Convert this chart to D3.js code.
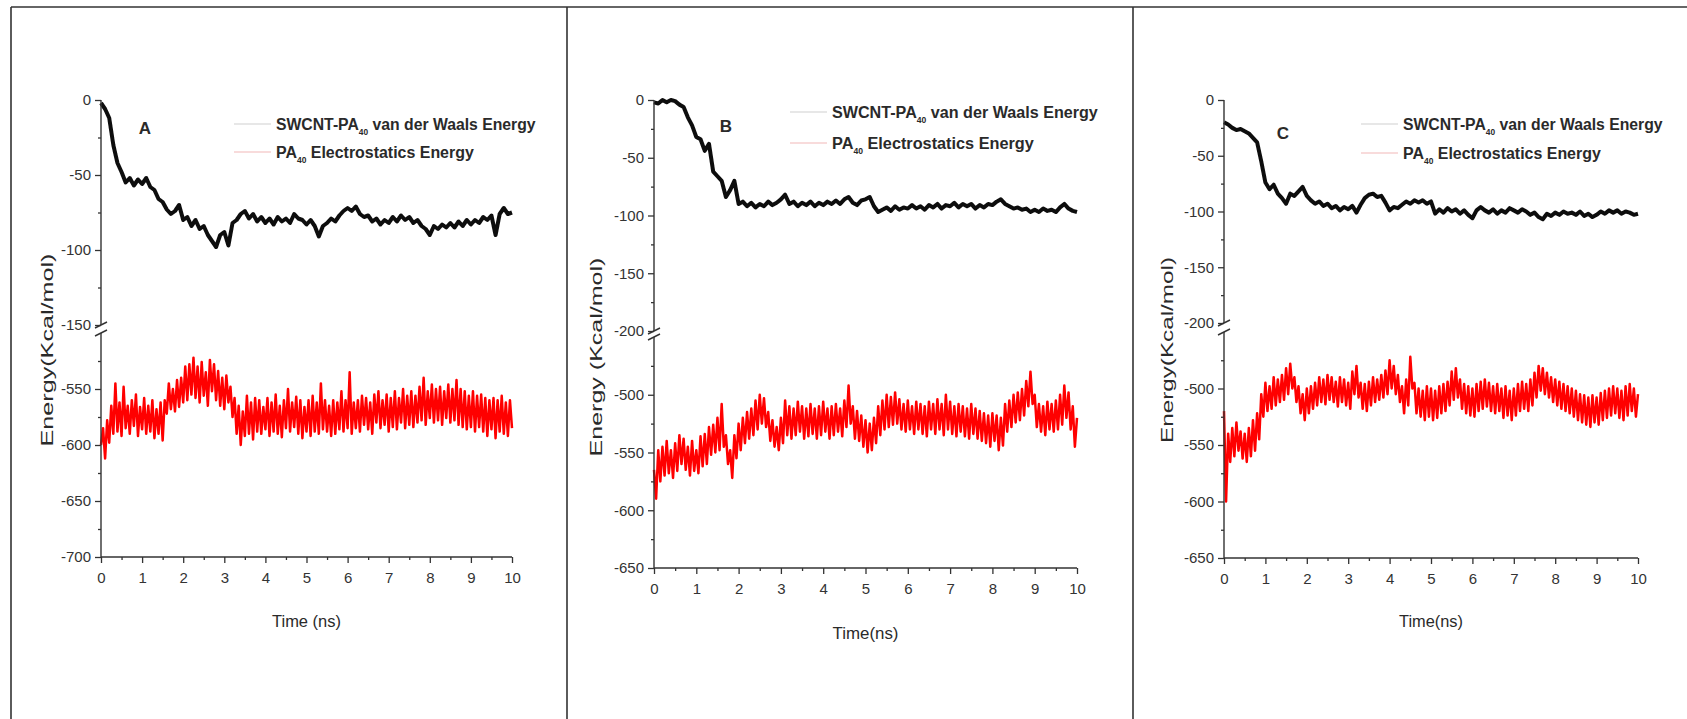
<!DOCTYPE html>
<html>
<head>
<meta charset="utf-8">
<script src="https://cdn.jsdelivr.net/npm/d3@7/dist/d3.min.js"></script>
<style>
  body { margin: 0; background: #fff; }
  svg { display: block; font-family: "Liberation Sans", Arial, sans-serif; }
</style>
</head>
<body>
<svg id="fig" width="1687" height="719"></svg>
<script>
// ---------------------------------------------------------------
// Energies (kcal/mol) over 0–10 ns for three SWCNT–PA40 systems.
// vdW series sampled every 0.1 ns, electrostatic every 0.05 ns.
// ---------------------------------------------------------------
const vdwA = [-2,-6,-12,-30,-42,-48,-55,-52,-57,-53,-56,-52,-58,-60,-66,-68,-73,-76,-74,-70,
  -80,-78,-84,-80,-86,-84,-90,-94,-98,-90,-88,-97,-82,-80,-76,-74,-79,-76,-81,-78,
  -82,-79,-83,-78,-81,-79,-82,-76,-79,-80,-83,-80,-84,-91,-84,-82,-79,-81,-77,-74,
  -72,-74,-71,-76,-78,-77,-81,-79,-83,-80,-82,-78,-81,-77,-80,-78,-82,-80,-84,-86,
  -90,-84,-86,-83,-85,-82,-85,-81,-84,-80,-83,-80,-82,-78,-80,-77,-90,-76,-72,-76,-75];

const elecA = [-600,-585,-612,-578,-598,-565,-590,-545,-588,-562,-592,-548,-585,-565,-590,-560,-583,-555,-592,-566,
  -586,-558,-590,-565,-588,-560,-594,-568,-590,-562,-596,-560,-572,-545,-568,-550,-570,-542,-566,-540,
  -562,-530,-560,-528,-555,-522,-558,-530,-562,-526,-556,-535,-565,-524,-552,-528,-560,-534,-565,-540,
  -568,-538,-562,-548,-575,-558,-590,-565,-600,-570,-592,-556,-590,-562,-595,-558,-588,-560,-590,-566,
  -586,-558,-592,-562,-588,-555,-590,-565,-593,-560,-585,-550,-588,-562,-584,-557,-590,-560,-594,-566,
  -588,-560,-592,-556,-588,-562,-590,-545,-586,-560,-588,-565,-592,-560,-590,-562,-586,-552,-588,-560,
  -585,-535,-590,-562,-585,-560,-588,-556,-582,-558,-586,-562,-590,-555,-580,-552,-585,-560,-582,-555,
  -588,-558,-584,-552,-586,-558,-580,-550,-585,-556,-582,-552,-584,-556,-580,-548,-578,-540,-582,-552,
  -576,-546,-580,-550,-578,-548,-582,-552,-576,-546,-580,-550,-578,-542,-582,-550,-584,-552,-586,-556,
  -584,-552,-588,-556,-584,-555,-588,-558,-592,-560,-586,-558,-594,-560,-588,-556,-590,-562,-592,-560,
  -585];

const vdwB = [-2,-3,0,-2,0,-1,-4,-6,-15,-22,-32,-34,-44,-38,-62,-66,-70,-84,-78,-70,
  -90,-88,-92,-89,-93,-90,-92,-88,-91,-89,-86,-82,-90,-88,-92,-89,-91,-88,-92,-89,
  -91,-88,-90,-87,-90,-86,-84,-89,-91,-87,-86,-84,-92,-97,-95,-93,-96,-92,-95,-93,
  -94,-91,-94,-92,-95,-91,-93,-90,-94,-91,-92,-89,-93,-90,-92,-90,-94,-91,-93,-90,
  -91,-88,-86,-90,-92,-94,-93,-95,-94,-97,-95,-97,-94,-96,-95,-97,-93,-90,-94,-96,-97];

const elecB = [-565,-590,-548,-575,-545,-570,-540,-568,-548,-572,-542,-566,-535,-560,-538,-565,-545,-570,-540,-566,
  -548,-568,-536,-562,-534,-560,-528,-552,-526,-550,-520,-548,-508,-545,-535,-560,-548,-572,-535,-555,
  -525,-548,-520,-542,-515,-538,-512,-535,-505,-530,-500,-525,-503,-528,-515,-540,-522,-545,-528,-548,
  -520,-542,-505,-535,-510,-538,-512,-535,-506,-532,-510,-538,-512,-536,-508,-534,-512,-538,-510,-535,
  -506,-532,-512,-538,-510,-535,-508,-532,-512,-536,-505,-528,-492,-525,-510,-538,-514,-540,-518,-545,
  -522,-550,-525,-548,-520,-542,-510,-535,-505,-530,-500,-528,-502,-526,-498,-525,-504,-530,-508,-532,
  -505,-530,-510,-534,-506,-530,-508,-534,-510,-536,-506,-530,-508,-534,-504,-530,-508,-535,-500,-530,
  -506,-534,-510,-536,-508,-532,-510,-536,-512,-538,-508,-534,-512,-538,-514,-540,-516,-542,-518,-545,
  -516,-540,-518,-548,-520,-544,-508,-532,-505,-528,-500,-524,-498,-522,-495,-518,-488,-510,-480,-508,
  -500,-528,-508,-532,-510,-535,-506,-530,-508,-532,-505,-530,-500,-526,-492,-520,-498,-530,-510,-545,
  -520];

const vdwC = [-20,-22,-25,-27,-26,-28,-30,-34,-38,-55,-74,-80,-76,-84,-88,-93,-84,-86,-82,-78,
  -86,-90,-93,-91,-95,-93,-97,-95,-99,-96,-98,-95,-101,-94,-88,-85,-84,-87,-86,-92,
  -99,-96,-97,-94,-91,-93,-90,-92,-90,-93,-91,-102,-98,-101,-97,-100,-98,-102,-99,-103,
  -106,-99,-96,-99,-101,-98,-102,-99,-101,-97,-99,-101,-98,-100,-103,-101,-105,-107,-102,-104,
  -101,-103,-100,-102,-101,-103,-100,-104,-102,-105,-103,-100,-102,-99,-101,-99,-102,-100,-101,-103,-102];

const elecC = [-520,-600,-540,-565,-535,-560,-530,-555,-538,-562,-540,-565,-535,-560,-528,-555,-522,-545,-505,-525,
  -495,-520,-498,-518,-490,-515,-492,-512,-488,-510,-482,-505,-478,-500,-490,-512,-498,-522,-505,-528,
  -500,-522,-498,-518,-495,-515,-490,-512,-492,-514,-488,-510,-490,-512,-494,-516,-490,-512,-492,-515,
  -495,-518,-485,-505,-480,-508,-495,-518,-496,-520,-494,-515,-490,-512,-492,-510,-488,-508,-484,-505,
  -475,-500,-480,-505,-488,-512,-498,-522,-492,-515,-472,-500,-495,-522,-500,-525,-502,-528,-498,-525,
  -500,-528,-502,-526,-498,-522,-496,-520,-494,-515,-485,-510,-482,-508,-492,-518,-496,-522,-498,-524,
  -500,-525,-496,-520,-494,-518,-492,-516,-495,-520,-498,-522,-496,-520,-500,-526,-498,-524,-502,-528,
  -500,-524,-496,-520,-494,-518,-496,-520,-492,-515,-486,-508,-480,-502,-482,-505,-486,-508,-490,-512,
  -492,-515,-494,-518,-496,-520,-498,-522,-500,-525,-502,-528,-505,-530,-506,-532,-508,-534,-506,-530,
  -508,-532,-504,-528,-502,-526,-500,-524,-498,-522,-500,-526,-502,-528,-498,-524,-496,-520,-500,-525,
  -505];

// Axis ticks
const xTicks = [0,1,2,3,4,5,6,7,8,9,10];
const xMinorTicks = [0.5,1.5,2.5,3.5,4.5,5.5,6.5,7.5,8.5,9.5];

const upperDomainA = [-150, 0],  lowerDomainA = [-700, -500];
const upperDomainB = [-200, 0],  lowerDomainB = [-650, -450];
const upperDomainC = [-200, 0],  lowerDomainC = [-650, -450];

const upperTicksA = [0,-50,-100,-150],        lowerTicksA = [-550,-600,-650,-700];
const upperTicksB = [0,-50,-100,-150,-200],   lowerTicksB = [-500,-550,-600,-650];
const upperTicksC = [0,-50,-100,-150,-200],   lowerTicksC = [-500,-550,-600,-650];

const upperMinorA = [-25,-75,-125],            lowerMinorA = [-525,-575,-625,-675];
const upperMinorB = [-25,-75,-125,-175],       lowerMinorB = [-475,-525,-575,-625];
const upperMinorC = [-25,-75,-125,-175],       lowerMinorC = [-475,-525,-575,-625];

const panelLetters = ["A", "B", "C"];
const yTitles = ["Energy(Kcal/mol)", "Energy (Kcal/mol)", "Energy(Kcal/mol)"];
const xTitles = ["Time (ns)", "Time(ns)", "Time(ns)"];

// ---------------------------------------------------------------
// Panel layout (pixel geometry)
// ---------------------------------------------------------------
const panels = [
  { letter: panelLetters[0], vdw: vdwA, elec: elecA,
    upDom: upperDomainA, loDom: lowerDomainA, upTicks: upperTicksA, loTicks: lowerTicksA,
    upMinor: upperMinorA, loMinor: lowerMinorA, yTitle: yTitles[0], xTitle: xTitles[0],
    left: 101, right: 512, upTop: 100, upBot: 325, loTop: 333, loBot: 557,
    letterPos: [145, 128], legX: 276, legY: [124, 152], legW: [260, 198],
    yTitlePos: [47, 350], yTitleLen: 193, xTitleY: 621, xTitleLen: 69 },
  { letter: panelLetters[1], vdw: vdwB, elec: elecB,
    upDom: upperDomainB, loDom: lowerDomainB, upTicks: upperTicksB, loTicks: lowerTicksB,
    upMinor: upperMinorB, loMinor: lowerMinorB, yTitle: yTitles[1], xTitle: xTitles[1],
    left: 654, right: 1077, upTop: 100, upBot: 331, loTop: 337, loBot: 568,
    letterPos: [726, 126], legX: 832, legY: [112, 143], legW: [266, 202],
    yTitlePos: [596, 357], yTitleLen: 199, xTitleY: 633, xTitleLen: 66 },
  { letter: panelLetters[2], vdw: vdwC, elec: elecC,
    upDom: upperDomainC, loDom: lowerDomainC, upTicks: upperTicksC, loTicks: lowerTicksC,
    upMinor: upperMinorC, loMinor: lowerMinorC, yTitle: yTitles[2], xTitle: xTitles[2],
    left: 1224, right: 1638, upTop: 100, upBot: 323, loTop: 332, loBot: 558,
    letterPos: [1283, 133], legX: 1403, legY: [124, 153], legW: [260, 198],
    yTitlePos: [1167, 350], yTitleLen: 186, xTitleY: 621, xTitleLen: 64 }
];

const svg = d3.select("#fig");
const ink = "#2a2a2a";

// Slight softening for the dense simulation traces
const defs = svg.append("defs");
defs.append("filter").attr("id", "soft").attr("x", "-5%").attr("y", "-20%")
  .attr("width", "110%").attr("height", "140%")
  .append("feGaussianBlur").attr("stdDeviation", 0.7);

// Outer frame and panel dividers
const frame = svg.append("g").attr("stroke", "#333").attr("stroke-width", 1.6).attr("fill", "none");
frame.append("line").attr("x1", 11).attr("x2", 1687).attr("y1", 7).attr("y2", 7);
frame.append("line").attr("x1", 11).attr("x2", 11).attr("y1", 7).attr("y2", 719);
frame.append("line").attr("x1", 567).attr("x2", 567).attr("y1", 7).attr("y2", 719);
frame.append("line").attr("x1", 1133).attr("x2", 1133).attr("y1", 7).attr("y2", 719);

// Place a text so that its drawn length equals `len`, scaling glyphs along the baseline.
function fittedText(parent, x, y, len, rotate, build) {
  const g = parent.append("g");
  const t = g.append("text").attr("x", 0).attr("y", 0);
  build(t);
  const w = t.node().getComputedTextLength();
  const s = len / w;
  g.attr("transform", `translate(${x},${y}) rotate(${rotate}) scale(${s},1)`);
  return g;
}

panels.forEach(p => {
  const g = svg.append("g");
  const x = d3.scaleLinear().domain([0, 10]).range([p.left, p.right]);
  const yUp = d3.scaleLinear().domain(p.upDom).range([p.upBot, p.upTop]);
  const yLo = d3.scaleLinear().domain(p.loDom).range([p.loBot, p.loTop]);

  const tVdw = d3.range(p.vdw.length).map(i => i * 10 / (p.vdw.length - 1));
  const tEl = d3.range(p.elec.length).map(i => i * 10 / (p.elec.length - 1));

  // Traces
  const traces = g.append("g").attr("filter", "url(#soft)");
  traces.append("path")
    .attr("d", d3.line().x((d, i) => x(tEl[i])).y(d => yLo(d))(p.elec))
    .attr("fill", "none").attr("stroke", "#ff0000").attr("stroke-width", 2.5)
    .attr("stroke-linejoin", "round");
  traces.append("path")
    .attr("d", d3.line().x((d, i) => x(tVdw[i])).y(d => yUp(d))(p.vdw))
    .attr("fill", "none").attr("stroke", "#111").attr("stroke-width", 4)
    .attr("stroke-linejoin", "round");

  // X axis
  const xAxis = g.append("g").attr("transform", `translate(0,${p.loBot})`)
    .call(d3.axisBottom(x).tickValues(xTicks).tickSize(6).tickPadding(9).tickFormat(d3.format("d")));
  g.append("g").attr("transform", `translate(0,${p.loBot})`)
    .call(d3.axisBottom(x).tickValues(xMinorTicks).tickSize(3).tickFormat(""))
    .select(".domain").remove();

  // Y axis, upper and lower segments
  const yAxUp = g.append("g").attr("transform", `translate(${p.left},0)`)
    .call(d3.axisLeft(yUp).tickValues(p.upTicks).tickSize(6).tickPadding(4).tickFormat(d3.format("d")));
  g.append("g").attr("transform", `translate(${p.left},0)`)
    .call(d3.axisLeft(yUp).tickValues(p.upMinor).tickSize(3).tickFormat(""))
    .select(".domain").remove();
  const yAxLo = g.append("g").attr("transform", `translate(${p.left},0)`)
    .call(d3.axisLeft(yLo).tickValues(p.loTicks).tickSize(6).tickPadding(4).tickFormat(d3.format("d")));
  g.append("g").attr("transform", `translate(${p.left},0)`)
    .call(d3.axisLeft(yLo).tickValues(p.loMinor).tickSize(3).tickFormat(""))
    .select(".domain").remove();

  [xAxis, yAxUp, yAxLo].forEach(a => {
    a.select(".domain").attr("stroke", "#333").attr("stroke-width", 1.4);
  });
  g.selectAll(".tick line").attr("stroke", "#333").attr("stroke-width", 1.3);
  g.selectAll(".tick text").attr("fill", "#333").attr("font-size", 15)
    .attr("font-family", "'Liberation Sans', Arial, sans-serif");
  // Plain hyphen for negative tick labels
  g.selectAll(".tick text").text(function () { return d3.select(this).text().replace("−", "-"); });
  // Axis lines without the outer-end caps
  yAxUp.select(".domain").attr("d", `M0,${p.upTop}V${p.upBot}`);
  yAxLo.select(".domain").attr("d", `M0,${p.loTop}V${p.loBot}`);
  xAxis.select(".domain").attr("d", `M${p.left},0H${p.right}`);

  // Axis-break marks
  const brk = g.append("g").attr("stroke", "#333").attr("stroke-width", 1.4);
  [p.upBot, p.loTop].forEach(yy => {
    brk.append("line").attr("x1", p.left - 6).attr("y1", yy + 3)
      .attr("x2", p.left + 6).attr("y2", yy - 3);
  });

  // Panel letter
  g.append("text").attr("x", p.letterPos[0]).attr("y", p.letterPos[1])
    .attr("text-anchor", "middle").attr("dominant-baseline", "central")
    .attr("font-size", 17).attr("font-weight", "bold").attr("fill", ink)
    .text(p.letter);

  // Legend
  const legendColors = ["#d0d0d0", "#f2b8b8"];
  p.legY.forEach((ly, k) => {
    g.append("line").attr("x1", p.legX - 42).attr("x2", p.legX - 5)
      .attr("y1", ly).attr("y2", ly)
      .attr("stroke", legendColors[k]).attr("stroke-width", 1.2);
  });
  fittedText(g, p.legX, p.legY[0] + 6, p.legW[0], 0, t => {
    t.attr("font-size", 17).attr("font-weight", "bold").attr("fill", ink);
    t.append("tspan").text("SWCNT-PA");
    t.append("tspan").attr("font-size", 9).attr("dy", 5).text("40");
    t.append("tspan").attr("dy", -5).text(" van der Waals Energy");
  });
  fittedText(g, p.legX, p.legY[1] + 6, p.legW[1], 0, t => {
    t.attr("font-size", 17).attr("font-weight", "bold").attr("fill", ink);
    t.append("tspan").text("PA");
    t.append("tspan").attr("font-size", 9).attr("dy", 5).text("40");
    t.append("tspan").attr("dy", -5).text(" Electrostatics Energy");
  });

  // Axis titles
  fittedText(g, p.yTitlePos[0], p.yTitlePos[1], p.yTitleLen, -90, t => {
    t.attr("font-size", 17).attr("fill", ink).attr("text-anchor", "middle")
      .attr("dominant-baseline", "central").text(p.yTitle);
  });
  fittedText(g, (p.left + p.right) / 2, p.xTitleY, p.xTitleLen, 0, t => {
    t.attr("font-size", 17).attr("fill", ink).attr("text-anchor", "middle")
      .attr("dominant-baseline", "central").text(p.xTitle);
  });
});
</script>
</body>
</html>
